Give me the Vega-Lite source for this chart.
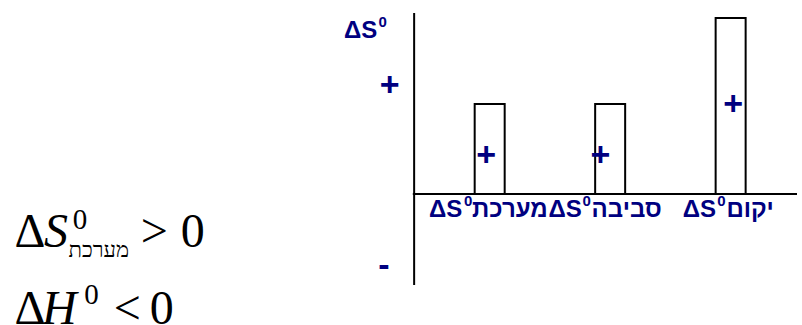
{
  "$schema": "https://vega.github.io/schema/vega-lite/v6.json",
  "width": 802,
  "height": 325,
  "autosize": "none",
  "padding": 0,
  "background": "white",
  "config": {"view": {"stroke": null}},
  "datasets": {
    "bars": [
      {"term": "מערכת", "pos": 1, "dS": 1.0},
      {"term": "סביבה", "pos": 2, "dS": 1.0},
      {"term": "יקום", "pos": 3, "dS": 1.956}
    ],
    "axes": [
      {"axis": "y", "x": 0.373, "x2": 0.373, "y": -1.01, "y2": 2.011},
      {"axis": "x", "x": 0.362, "x2": 3.5508, "y": 0, "y2": 0}
    ],
    "signs": [
      {"t": "+", "x": 0.170, "y": 1.2},
      {"t": "-", "x": 0.123, "y": -0.7967},
      {"t": "+", "x": 0.971, "y": 0.4222},
      {"t": "+", "x": 1.920, "y": 0.4222},
      {"t": "+", "x": 3.020, "y": 0.9889}
    ],
    "dsMain": [
      {"t": "ΔS", "x": 0.0672, "y": 1.7333},
      {"t": "ΔS", "x": 0.7721, "y": -0.2556},
      {"t": "ΔS", "x": 1.7639, "y": -0.2556},
      {"t": "ΔS", "x": 2.8787, "y": -0.2556}
    ],
    "dsSup": [
      {"t": "0", "x": 0.1115, "y": 1.8556},
      {"t": "0", "x": 0.8213, "y": -0.1333},
      {"t": "0", "x": 1.8049, "y": -0.1333},
      {"t": "0", "x": 2.9238, "y": -0.1333}
    ],
    "heb": [
      {"t": "מערכת", "x": 0.8541, "y": -0.2556},
      {"t": "סביבה", "x": 1.8459, "y": -0.2556},
      {"t": "יקום", "x": 2.9648, "y": -0.2556}
    ],
    "fUp": [
      {"t": "Δ", "x": -2.945, "y": -0.5889},
      {"t": ">", "x": -1.896, "y": -0.5889},
      {"t": "0", "x": -1.565, "y": -0.5889},
      {"t": "Δ", "x": -2.945, "y": -1.4444},
      {"t": "<", "x": -2.121, "y": -1.4444},
      {"t": "0", "x": -1.822, "y": -1.4444}
    ],
    "fIt": [
      {"t": "S", "x": -2.699, "y": -0.5889},
      {"t": "H", "x": -2.715, "y": -1.4444}
    ],
    "fSup": [
      {"t": "0", "x": -2.46, "y": -0.3889},
      {"t": "0", "x": -2.365, "y": -1.2222}
    ],
    "fSub": [
      {"t": "מערכת", "x": -2.495, "y": -0.7}
    ]
  },
  "encoding": {
    "x": {"type": "quantitative", "scale": {"domain": [-3.02295, 3.55082], "nice": false, "zero": false}, "axis": null},
    "y": {"type": "quantitative", "scale": {"domain": [-1.45556, 2.15556], "nice": false, "zero": false}, "axis": null}
  },
  "layer": [
    {
      "data": {"name": "axes"},
      "mark": {"type": "rule", "color": "black", "strokeWidth": 2},
      "encoding": {
        "x": {"field": "x", "type": "quantitative"},
        "x2": {"field": "x2"},
        "y": {"field": "y", "type": "quantitative"},
        "y2": {"field": "y2"}
      }
    },
    {
      "data": {"name": "bars"},
      "mark": {"type": "bar", "width": 30, "fill": "white", "stroke": "black", "strokeWidth": 2},
      "encoding": {
        "x": {"field": "pos", "type": "quantitative"},
        "y": {"field": "dS", "type": "quantitative"},
        "y2": {"datum": 0}
      }
    },
    {
      "data": {"name": "signs"},
      "mark": {"type": "text", "font": "Liberation Sans", "fontWeight": "bold", "fontSize": 34, "color": "#000080", "align": "center", "baseline": "middle"},
      "encoding": {
        "x": {"field": "x", "type": "quantitative"},
        "y": {"field": "y", "type": "quantitative"},
        "text": {"field": "t"}
      }
    },
    {
      "data": {"name": "dsMain"},
      "mark": {"type": "text", "font": "Liberation Sans", "fontWeight": "bold", "fontSize": 24, "color": "#000080", "align": "right", "baseline": "alphabetic"},
      "encoding": {
        "x": {"field": "x", "type": "quantitative"},
        "y": {"field": "y", "type": "quantitative"},
        "text": {"field": "t"}
      }
    },
    {
      "data": {"name": "dsSup"},
      "mark": {"type": "text", "font": "Liberation Sans", "fontWeight": "bold", "fontSize": 15, "color": "#000080", "align": "center", "baseline": "alphabetic"},
      "encoding": {
        "x": {"field": "x", "type": "quantitative"},
        "y": {"field": "y", "type": "quantitative"},
        "text": {"field": "t"}
      }
    },
    {
      "data": {"name": "heb"},
      "mark": {"type": "text", "font": "Liberation Sans", "fontWeight": "bold", "fontSize": 24, "color": "#000080", "align": "left", "baseline": "alphabetic"},
      "encoding": {
        "x": {"field": "x", "type": "quantitative"},
        "y": {"field": "y", "type": "quantitative"},
        "text": {"field": "t"}
      }
    },
    {
      "data": {"name": "fUp"},
      "mark": {"type": "text", "font": "Liberation Serif", "fontSize": 48, "color": "black", "align": "left", "baseline": "alphabetic"},
      "encoding": {
        "x": {"field": "x", "type": "quantitative"},
        "y": {"field": "y", "type": "quantitative"},
        "text": {"field": "t"}
      }
    },
    {
      "data": {"name": "fIt"},
      "mark": {"type": "text", "font": "Liberation Serif", "fontStyle": "italic", "fontSize": 48, "color": "black", "align": "left", "baseline": "alphabetic"},
      "encoding": {
        "x": {"field": "x", "type": "quantitative"},
        "y": {"field": "y", "type": "quantitative"},
        "text": {"field": "t"}
      }
    },
    {
      "data": {"name": "fSup"},
      "mark": {"type": "text", "font": "Liberation Serif", "fontSize": 29, "color": "black", "align": "left", "baseline": "alphabetic"},
      "encoding": {
        "x": {"field": "x", "type": "quantitative"},
        "y": {"field": "y", "type": "quantitative"},
        "text": {"field": "t"}
      }
    },
    {
      "data": {"name": "fSub"},
      "mark": {"type": "text", "font": "Liberation Serif", "fontSize": 22, "color": "black", "align": "left", "baseline": "alphabetic"},
      "encoding": {
        "x": {"field": "x", "type": "quantitative"},
        "y": {"field": "y", "type": "quantitative"},
        "text": {"field": "t"}
      }
    }
  ]
}
